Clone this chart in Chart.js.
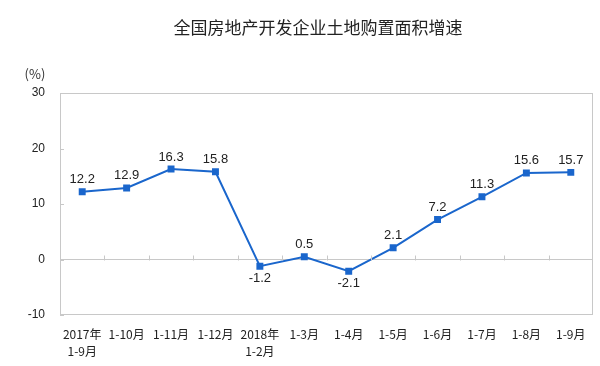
<!DOCTYPE html>
<html>
<head>
<meta charset="utf-8">
<script src="https://cdn.jsdelivr.net/npm/chart.js@4"></script>
<style>
  body { margin: 0; background: #fff; }
  #wrap { width: 600px; height: 366px; }
</style>
</head>
<body>
<div id="wrap"><canvas id="LandChart" width="600" height="366"></canvas></div>
<script>
var Months = [['2017年', '1-9月'], '1-10月', '1-11月', '1-12月', ['2018年', '1-2月'], '1-3月', '1-4月', '1-5月', '1-6月', '1-7月', '1-8月', '1-9月']
var GrowthRate = [12.2, 12.9, 16.3, 15.8, -1.2, 0.5, -2.1, 2.1, 7.2, 11.3, 15.6, 15.7]
var YTicks = [-10, 0, 10, 20, 30]
var ChartTitle = '全国房地产开发企业土地购置面积增速'

var LineColor = '#1a66cc'
var AxisColor = '#c8c8c8'

// title, frame, little ticks and point labels
var decorPlugin = {
    id: 'decor',
    afterDraw: function (chart) {
        var ctx = chart.ctx
        var area = chart.chartArea
        var x = chart.scales.x
        var y = chart.scales.y
        ctx.save()

        ctx.fillStyle = '#222'
        ctx.font = '17px "Noto Sans CJK SC"'
        ctx.textAlign = 'center'
        ctx.textBaseline = 'middle'
        ctx.fillText(ChartTitle, 318, 28)

        ctx.strokeStyle = AxisColor
        ctx.lineWidth = 1
        ctx.strokeRect(area.left + 0.5, area.top + 0.5, area.right - area.left - 1, area.bottom - area.top - 1)

        // category boundary ticks on the zero line
        var zero = Math.round(y.getPixelForValue(0)) + 0.5
        ctx.beginPath()
        for (var i = 1; i < Months.length; i++) {
            var bx = Math.round((x.getPixelForValue(i - 1) + x.getPixelForValue(i)) / 2) + 0.5
            ctx.moveTo(bx, zero)
            ctx.lineTo(bx, zero - 5)
        }
        // small ticks on the left edge
        for (var v of YTicks) {
            var py = Math.round(y.getPixelForValue(v)) + 0.5
            ctx.moveTo(area.left, py)
            ctx.lineTo(area.left + 4, py)
        }
        ctx.stroke()

        // (%) unit
        ctx.fillStyle = '#333'
        ctx.font = '13px "Noto Sans CJK SC"'
        ctx.fillText('(%)', 35, 74)

        // value labels
        ctx.font = '13px "Liberation Sans", Arial'
        ctx.fillStyle = '#222'
        var meta = chart.getDatasetMeta(0)
        meta.data.forEach(function (pt, idx) {
            var val = GrowthRate[idx]
            var below = val < 0
            ctx.fillText(val.toFixed(1), pt.x, below ? pt.y + 12 : pt.y - 12)
        })
        ctx.restore()
    }
}

var config_Land = {
    type: 'line',
    data: {
        labels: Months,
        datasets: [{
            label: '增速',
            data: GrowthRate,
            borderColor: LineColor,
            backgroundColor: LineColor,
            borderWidth: 2,
            pointStyle: 'rect',
            pointRadius: 3.5,
            pointHoverRadius: 3.5,
            tension: 0,
        }],
    },
    plugins: [decorPlugin],
    options: {
        responsive: false,
        animation: false,
        layout: {
            padding: { top: 93, right: 7, bottom: 0, left: 0 }
        },
        plugins: {
            legend: { display: false },
            tooltip: { enabled: false },
            title: { display: false },
        },
        scales: {
            x: {
                offset: true,
                grid: { display: false, drawTicks: false },
                border: { display: false },
                ticks: {
                    color: '#222',
                    font: { family: '"Noto Sans CJK SC"', size: 12, lineHeight: 1.4 },
                    padding: 11,
                    maxRotation: 0,
                    autoSkip: false,
                },
                afterFit: function (scale) { scale.height = 51 },
            },
            y: {
                min: -10,
                max: 30,
                ticks: {
                    stepSize: 10,
                    color: '#222',
                    font: { family: '"Liberation Sans", Arial', size: 12 },
                    padding: 15,
                },
                grid: {
                    drawTicks: false,
                    color: function (c) { return c.tick && c.tick.value === 0 ? AxisColor : 'transparent' },
                },
                border: { display: false },
                afterFit: function (scale) { scale.width = 60 },
            },
        },
    },
}

var LandChartElement = document.getElementById('LandChart').getContext('2d')
new Chart(LandChartElement, config_Land)
</script>
</body>
</html>
